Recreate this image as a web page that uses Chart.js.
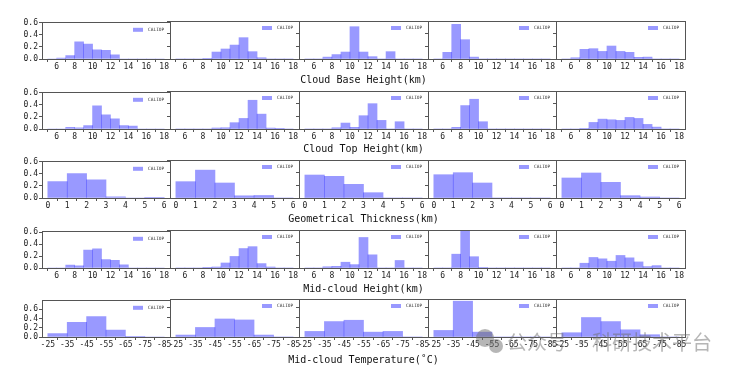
<!DOCTYPE html>
<html>
<head>
<meta charset="utf-8">
<script src="https://cdn.jsdelivr.net/npm/chart.js@4.4.0/dist/chart.umd.min.js"></script>
<style>
  body { margin: 0; background: #fff; }
  #wrap { position: relative; width: 739px; height: 373px; overflow: hidden; }
  #wrap canvas { position: absolute; }
  .xlab { position: absolute; font: 10px "DejaVu Sans Mono", monospace; color: #111; transform: translate(-50%, -50%); white-space: nowrap; }
  .wm { position: absolute; font: 20px "Noto Sans CJK SC", sans-serif; color: rgba(110,110,110,0.5); line-height: 20px; white-space: nowrap; }
  .dot { position: absolute; border-radius: 50%; background: rgba(110,110,110,0.5); }
</style>
</head>
<body>
<div id="wrap"></div>
<script>
// bins (centres) and ticks
const heightBins = [5.5, 6.5, 7.5, 8.5, 9.5, 10.5, 11.5, 12.5, 13.5, 14.5, 15.5, 16.5, 17.5];
const thickBins = [0.5, 1.5, 2.5, 3.5, 4.5, 5.5];
const tempBins = [-30, -40, -50, -60, -70, -80];
const heightTicks = [6, 8, 10, 12, 14, 16, 18];
const thickTicks = [0, 1, 2, 3, 4, 5, 6];
const tempTicks = [-25, -35, -45, -55, -65, -75, -85];
const yTicks = [0, 0.2, 0.4, 0.6];

const rowTitles = ['Cloud Base Height(km)', 'Cloud Top Height(km)', 'Geometrical Thickness(km)',
                   'Mid-cloud Height(km)', 'Mid-cloud Temperature(\u02DAC)'];

// frequencies, one list per panel
const baseHeight = [
  [0, 0.016, 0.058, 0.284, 0.247, 0.153, 0.142, 0.068, 0, 0, 0, 0, 0],
  [0, 0, 0, 0.01, 0.11, 0.158, 0.22, 0.337, 0.116, 0.02, 0, 0, 0],
  [0, 0, 0.03, 0.07, 0.11, 0.51, 0.11, 0.037, 0, 0.116, 0, 0, 0],
  [0, 0.105, 0.547, 0.305, 0.03, 0, 0, 0, 0, 0, 0, 0, 0],
  [0, 0.02, 0.153, 0.163, 0.12, 0.205, 0.12, 0.105, 0.026, 0.03, 0, 0, 0]
];
const topHeight = [
  [0, 0, 0.026, 0.02, 0.057, 0.386, 0.235, 0.167, 0.057, 0.047, 0, 0, 0],
  [0, 0, 0, 0, 0.016, 0.02, 0.1, 0.167, 0.454, 0.235, 0.015, 0.005, 0],
  [0, 0, 0, 0.02, 0.094, 0.026, 0.21, 0.40, 0.136, 0, 0.115, 0, 0],
  [0, 0, 0.026, 0.37, 0.47, 0.115, 0, 0, 0, 0, 0, 0, 0],
  [0, 0, 0.01, 0.104, 0.156, 0.146, 0.136, 0.183, 0.167, 0.073, 0.03, 0, 0]
];
const thickness = [
  [0.274, 0.405, 0.30, 0.02, 0, 0.003],
  [0.258, 0.44, 0.237, 0.035, 0.04, 0],
  [0.363, 0.342, 0.216, 0.084, 0, 0],
  [0.368, 0.40, 0.237, 0, 0, 0],
  [0.316, 0.395, 0.247, 0.037, 0.016, 0]
];
const midHeight = [
  [0, 0, 0.049, 0.038, 0.30, 0.32, 0.14, 0.13, 0.054, 0, 0, 0, 0],
  [0, 0, 0, 0.005, 0.016, 0.08, 0.184, 0.31, 0.34, 0.07, 0.016, 0, 0],
  [0, 0, 0.02, 0.027, 0.092, 0.054, 0.486, 0.21, 0, 0, 0.12, 0, 0],
  [0, 0, 0.22, 0.595, 0.18, 0.006, 0, 0, 0, 0, 0, 0, 0],
  [0, 0, 0.076, 0.168, 0.146, 0.108, 0.2, 0.162, 0.097, 0.022, 0.038, 0, 0]
];
const midTemp = [
  [0.074, 0.317, 0.438, 0.148, 0.013, 0],
  [0.04, 0.196, 0.37, 0.35, 0.04, 0],
  [0.115, 0.317, 0.344, 0.1, 0.115, 0],
  [0.135, 0.735, 0.1, 0, 0, 0],
  [0.088, 0.40, 0.317, 0.148, 0.047, 0]
];

const rows = [
  { bins: heightBins, vals: baseHeight, ticks: heightTicks, x: [4.35, 18.65], ymax: 0.6 },
  { bins: heightBins, vals: topHeight, ticks: heightTicks, x: [4.35, 18.65], ymax: 0.6 },
  { bins: thickBins, vals: thickness, ticks: thickTicks, x: [-0.3, 6.3], ymax: 0.6 },
  { bins: heightBins, vals: midHeight, ticks: heightTicks, x: [4.35, 18.65], ymax: 0.605 },
  { bins: tempBins, vals: midTemp, ticks: tempTicks, x: [-88, -22], rev: true, ymax: 0.78 }
];

// layout
const colX = [42, 170, 299, 428, 556, 685];
const rowY = [21, 91, 160, 230, 299];
const PH = 38;
const labY = [79, 148, 218, 288, 359];
const padL = 32, padR = 14, padT = 4, axH = 16;
const BAR = 'rgba(0,0,255,0.4)';
const SPINE = '#555';
const TXT = '#222';
const tickFont = { family: '"DejaVu Sans Mono", monospace', size: 8 };

const wrap = document.getElementById('wrap');

// spines on all four sides + small legend in the corner
const frame = {
  id: 'frame',
  afterDatasetsDraw(chart) {
    const { ctx, chartArea: a } = chart;
    const ds = chart.data.datasets[0];
    const l = Math.round(a.left - 0.5) + 0.5, r = Math.round(a.right - 0.5) + 0.5;
    const t = Math.round(a.top - 0.5) + 0.5, b = Math.round(a.bottom - 0.5) + 0.5;
    ctx.save();
    ctx.strokeStyle = SPINE;
    ctx.lineWidth = 1;
    ctx.strokeRect(l, t, r - l, b - t);
    ctx.fillStyle = ds.backgroundColor;
    ctx.fillRect(a.right - 37, a.top + 5, 10, 4);
    ctx.fillStyle = '#333';
    ctx.font = '4.5px "DejaVu Sans Mono", monospace';
    ctx.textBaseline = 'middle';
    ctx.fillText(ds.label, a.right - 22, a.top + 7);
    ctx.restore();
  }
};

function makePanel(r, c) {
  const row = rows[r];
  const w = colX[c + 1] - colX[c];
  const cv = document.createElement('canvas');
  cv.width = w + padL + padR;
  cv.height = PH + padT + axH;
  cv.style.left = (colX[c] - padL) + 'px';
  cv.style.top = (rowY[r] - padT) + 'px';
  wrap.appendChild(cv);

  new Chart(cv, {
    type: 'bar',
    data: {
      datasets: [{
        label: 'CALIOP',
        data: row.bins.map((b, i) => ({ x: b, y: row.vals[c][i] })),
        backgroundColor: BAR,
        borderWidth: 0,
        barPercentage: 1,
        categoryPercentage: 1
      }]
    },
    options: {
      responsive: false,
      animation: false,
      events: [],
      layout: { padding: { left: 0, right: padR, top: padT, bottom: 0 } },
      plugins: { legend: { display: false }, tooltip: { enabled: false } },
      scales: {
        x: {
          type: 'linear',
          min: row.x[0], max: row.x[1],
          reverse: !!row.rev,
          offset: false,
          grid: { drawOnChartArea: false, tickLength: 3, color: SPINE },
          border: { color: SPINE },
          ticks: { font: tickFont, color: TXT, padding: 0, maxRotation: 0, autoSkip: false,
                   callback: v => String(v) },
          afterBuildTicks: s => { s.ticks = row.ticks.map(v => ({ value: v })); },
          afterFit: s => { s.height = axH; }
        },
        y: {
          min: 0, max: row.ymax,
          grid: { drawOnChartArea: false, tickLength: 3, color: SPINE },
          border: { color: SPINE },
          ticks: { display: c === 0, font: tickFont, color: TXT, padding: 1, autoSkip: false,
                   callback: v => v.toFixed(1) },
          afterBuildTicks: s => { s.ticks = yTicks.map(v => ({ value: v })); },
          afterFit: s => { s.width = padL; }
        }
      }
    },
    plugins: [frame]
  });
}

for (let r = 0; r < rows.length; r++) {
  for (let c = 0; c < 5; c++) makePanel(r, c);
  const lab = document.createElement('div');
  lab.className = 'xlab';
  lab.textContent = rowTitles[r];
  lab.style.left = ((colX[0] + colX[5]) / 2) + 'px';
  lab.style.top = labY[r] + 'px';
  wrap.appendChild(lab);
}

// watermark
[[476, 329, 18], [489, 339, 14]].forEach(d => {
  const el = document.createElement('div');
  el.className = 'dot';
  el.style.left = d[0] + 'px'; el.style.top = d[1] + 'px';
  el.style.width = d[2] + 'px'; el.style.height = d[2] + 'px';
  wrap.appendChild(el);
});
[['公众号', 507], ['·', 571], ['科研技术平台', 592]].forEach(t => {
  const el = document.createElement('div');
  el.className = 'wm';
  el.textContent = t[0];
  el.style.left = t[1] + 'px';
  el.style.top = '332px';
  wrap.appendChild(el);
});
</script>
</body>
</html>
